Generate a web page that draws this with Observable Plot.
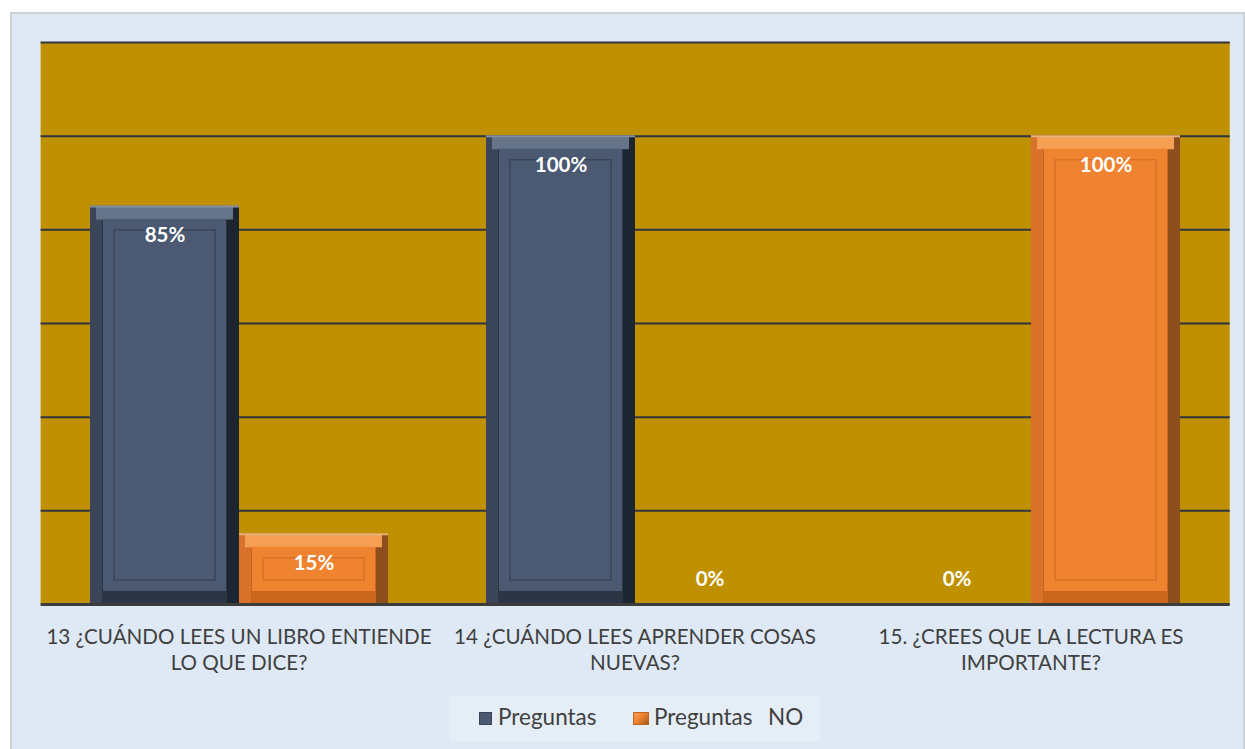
<!DOCTYPE html>
<html><head><meta charset="utf-8">
<script src="https://cdn.jsdelivr.net/npm/d3@7"></script>
<script src="https://cdn.jsdelivr.net/npm/@observablehq/plot@0.6"></script>
<style>
html,body{margin:0;padding:0}
body{background:#fff;width:1245px;height:749px;overflow:hidden;position:relative;font-family:Lato,"Open Sans",sans-serif}
#frame{position:absolute;left:10px;top:12px;width:1235px;height:745px;background:#dee9f5;border:2px solid #cdd1d6;box-sizing:border-box}
#chart{position:absolute;left:0;top:0}
#legend{position:absolute;left:450px;top:696px;width:370px;height:45px;background:#e5edf7;font-size:22.5px;color:#404040}
#legend .sw{position:absolute;top:16px;width:13px;height:13px}
#legend .lb{position:absolute;top:8px;white-space:pre;line-height:26px}
</style>
</head><body>
<div id="frame"></div>
<div id="chart"></div>
<div id="legend">
  <div class="sw" style="left:29px;background:#4b5a72;box-shadow:inset 0 0 0 1px #38445a"></div>
  <div class="lb" style="left:48px">Preguntas</div>
  <div class="sw" style="left:183px;width:16px;background:linear-gradient(135deg,#f5a460 0%,#f0832f 45%,#a0521a 100%);box-shadow:inset 0 0 0 1px #c0651f"></div>
  <div class="lb" style="left:204px">Preguntas</div>
  <div class="lb" style="left:318px">NO</div>
</div>
<script>
const questions = [
  "13 ¿CUÁNDO LEES UN LIBRO ENTIENDE\nLO QUE DICE?",
  "14 ¿CUÁNDO LEES APRENDER COSAS\nNUEVAS?",
  "15. ¿CREES QUE LA LECTURA ES\nIMPORTANTE?"
];
const series = ["Preguntas", "Preguntas NO"];
const valuesSi = [0.85, 1.00, 0.00];
const valuesNo = [0.15, 0.00, 1.00];
const gridTicks = [0.2, 0.4, 0.6, 0.8, 1.0, 1.2];

const rows = questions.flatMap((q, i) => [
  {q, s: series[0], v: valuesSi[i]},
  {q, s: series[1], v: valuesNo[i]}
]);

const W = 1245, H = 690, mL = 40, mR = 15, mT = 42, mB = 86;
const padIn = 0.244, padOut = padIn / 2;
const step = (W - mL - mR) / (questions.length - padIn + 2 * padOut);
const bw = step * (1 - padIn);
const spanLeft = step * padIn / 2;
const spanRight = (W - mL - mR) - spanLeft - bw;
const firstFacet = () => questions[0];

const palDark = {right:"#1d2531", left:"#3a4658", bottom:"#2c3544", top:"#66748a", face:"#4b5a72", line:"#3a4658", edge:"#8591a2"};
const palOrange = {right:"#8e4d1c", left:"#d8722a", bottom:"#c9671f", top:"#f59f55", face:"#f0832f", line:"#d8732a", edge:"#e8b27a"};

function bevelBar(data, p) {
  const o = {fx: "q", x: "s", y: "v"};
  return [
    Plot.barY(data, {...o, fill: p.right}),
    Plot.barY(data, {...o, fill: p.left, insetRight: 12}),
    Plot.barY(data, {...o, fill: p.bottom, insetLeft: 12, insetRight: 12, insetTop: 12}),
    Plot.tickY(data, {...o, stroke: p.top, strokeWidth: 13, dy: 6.5, insetLeft: 6, insetRight: 6}),
    Plot.barY(data, {...o, fill: p.face, inset: 13}),
    Plot.barY(data, {...o, fill: "none", stroke: p.line, strokeWidth: 1.5, inset: 24}),
    Plot.tickY(data, {...o, stroke: p.edge, strokeWidth: 2})
  ];
}

const darkRows = rows.filter(d => d.s === series[0] && d.v > 0);
const orangeRows = rows.filter(d => d.s === series[1] && d.v > 0);

const chart = Plot.plot({
  width: W, height: H,
  marginLeft: mL, marginRight: mR, marginTop: mT, marginBottom: mB,
  style: {fontFamily: "Lato, 'Open Sans', sans-serif", background: "transparent", overflow: "visible"},
  fx: {domain: questions, paddingInner: padIn, paddingOuter: padOut, align: 0.5, axis: null},
  x: {domain: series, paddingInner: 0, paddingOuter: 0, axis: null},
  y: {domain: [0, 1.2], axis: null},
  marks: [
    Plot.rect([0], {fx: firstFacet, y1: 0, y2: 1.2, fill: "#bf9000", insetLeft: -spanLeft, insetRight: -spanRight}),
    Plot.ruleY(gridTicks, {fx: firstFacet, y: d => d, stroke: "#2e3440", strokeWidth: 2, insetLeft: -spanLeft, insetRight: -spanRight}),
    ...bevelBar(darkRows, palDark),
    ...bevelBar(orangeRows, palOrange),
    Plot.ruleY([0], {fx: firstFacet, y: d => d, stroke: "#3c3c3c", strokeWidth: 3, insetLeft: -spanLeft, insetRight: -spanRight}),
    Plot.text(rows.filter(d => d.v > 0), {fx: "q", x: "s", y: "v", text: d => Math.round(d.v * 100) + "%", dy: 29, fill: "white", fontWeight: "bold", fontSize: 20.5}),
    Plot.text(rows.filter(d => d.v === 0), {fx: "q", x: "s", y: "v", text: d => Math.round(d.v * 100) + "%", dy: -25, fill: "white", fontWeight: "bold", fontSize: 20.5}),
    Plot.axisFx({anchor: "bottom", tickSize: 0, tickPadding: 21, label: null, fontSize: 20.6, lineHeight: 1.27, color: "#404040"})
  ]
});
document.getElementById("chart").appendChild(chart);
</script>
</body></html>
